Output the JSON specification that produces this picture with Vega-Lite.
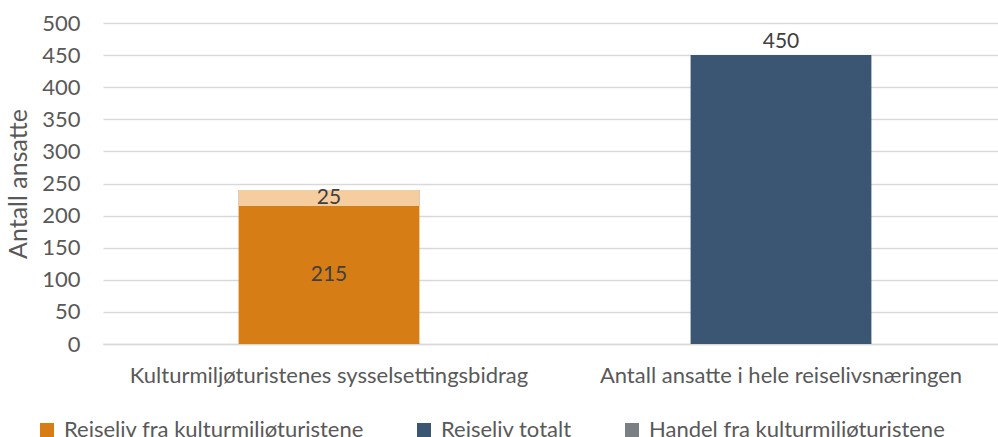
{
  "$schema": "https://vega.github.io/schema/vega-lite/v6.json",
  "width": 904,
  "height": 321,
  "autosize": {"type": "none"},
  "padding": {"left": 103, "top": 23, "right": 0, "bottom": 93},
  "background": "white",
  "config": {
    "font": "Lato",
    "view": {"stroke": null},
    "axis": {"labelColor": "#595959", "titleColor": "#595959", "labelFont": "Lato", "titleFont": "Lato"},
    "axisY": {
      "titleFontSize": 25,
      "titleFontWeight": "normal",
      "titlePadding": 10,
      "tickCount": 11,
      "labelFontSize": 22,
      "labelPadding": 23,
      "labelOverlap": false,
      "ticks": false,
      "tickSize": 0,
      "domain": false,
      "grid": true,
      "gridColor": "#D9D9D9",
      "gridWidth": 1.5
    }
  },
  "data": {
    "values": [
      {"kategori": "Kulturmiljøturistenes sysselsettingsbidrag", "serie": "Reiseliv fra kulturmiljøturistene", "antall": 215},
      {"kategori": "Kulturmiljøturistenes sysselsettingsbidrag", "serie": "Handel fra kulturmiljøturistene", "antall": 25},
      {"kategori": "Antall ansatte i hele reiselivsnæringen", "serie": "Reiseliv totalt", "antall": 450}
    ]
  },
  "transform": [
    {"stack": "antall", "groupby": ["kategori"], "sort": [{"field": "serie", "order": "descending"}], "as": ["y0", "y1"]},
    {"calculate": "(datum.y0 + datum.y1) / 2", "as": "ymid"}
  ],
  "encoding": {
    "x": {
      "field": "kategori",
      "type": "nominal",
      "sort": ["Kulturmiljøturistenes sysselsettingsbidrag", "Antall ansatte i hele reiselivsnæringen"],
      "scale": {"paddingInner": 0.6, "paddingOuter": 0.3},
      "axis": {
        "title": null,
        "labelAngle": 0,
        "labelFontSize": 22,
        "ticks": false,
        "tickSize": 0,
        "labelPadding": 21,
        "domain": true,
        "domainColor": "#D9D9D9",
        "domainWidth": 1.5,
        "labelLimit": 0,
        "labelOverlap": false
      }
    }
  },
  "layer": [
    {
      "mark": {"type": "bar"},
      "encoding": {
        "y": {
          "field": "y1",
          "type": "quantitative",
          "scale": {"domain": [0, 500], "nice": false},
          "axis": {"title": "Antall ansatte", "tickCount": 11, "values": [0, 50, 100, 150, 200, 250, 300, 350, 400, 450, 500]}
        },
        "y2": {"field": "y0"},
        "color": {
          "field": "serie",
          "type": "nominal",
          "scale": {
            "domain": ["Reiseliv fra kulturmiljøturistene", "Reiseliv totalt", "Handel fra kulturmiljøturistene"],
            "range": ["#D77D16", "#3A5673", "#7A7F84"]
          },
          "legend": {
            "title": null,
            "orient": "none",
            "direction": "horizontal",
            "columns": 3,
            "legendX": -67,
            "legendY": 396,
            "symbolType": "square",
            "symbolSize": 196,
            "symbolStrokeWidth": 0,
            "labelFontSize": 22,
            "labelColor": "#595959",
            "labelOffset": 6,
            "columnPadding": 49,
            "labelLimit": 0
          }
        }
      }
    },
    {
      "transform": [{"filter": "datum.serie === 'Handel fra kulturmiljøturistene'"}],
      "mark": {"type": "bar", "color": "#F5CD9E"},
      "encoding": {
        "y": {"field": "y1", "type": "quantitative", "axis": {"title": "Antall ansatte", "tickCount": 11, "values": [0, 50, 100, 150, 200, 250, 300, 350, 400, 450, 500]}},
        "y2": {"field": "y0"}
      }
    },
    {
      "transform": [{"filter": "datum.serie !== 'Reiseliv totalt'"}],
      "mark": {"type": "text", "fontSize": 21, "color": "#404040", "baseline": "middle", "font": "Lato"},
      "encoding": {
        "y": {"field": "ymid", "type": "quantitative", "axis": {"title": "Antall ansatte", "tickCount": 11, "values": [0, 50, 100, 150, 200, 250, 300, 350, 400, 450, 500]}},
        "text": {"field": "antall", "type": "quantitative"}
      }
    },
    {
      "transform": [{"filter": "datum.serie === 'Reiseliv totalt'"}],
      "mark": {"type": "text", "fontSize": 21, "color": "#404040", "baseline": "bottom", "dy": -3, "font": "Lato"},
      "encoding": {
        "y": {"field": "y1", "type": "quantitative", "axis": {"title": "Antall ansatte", "tickCount": 11, "values": [0, 50, 100, 150, 200, 250, 300, 350, 400, 450, 500]}},
        "text": {"field": "antall", "type": "quantitative"}
      }
    }
  ]
}
